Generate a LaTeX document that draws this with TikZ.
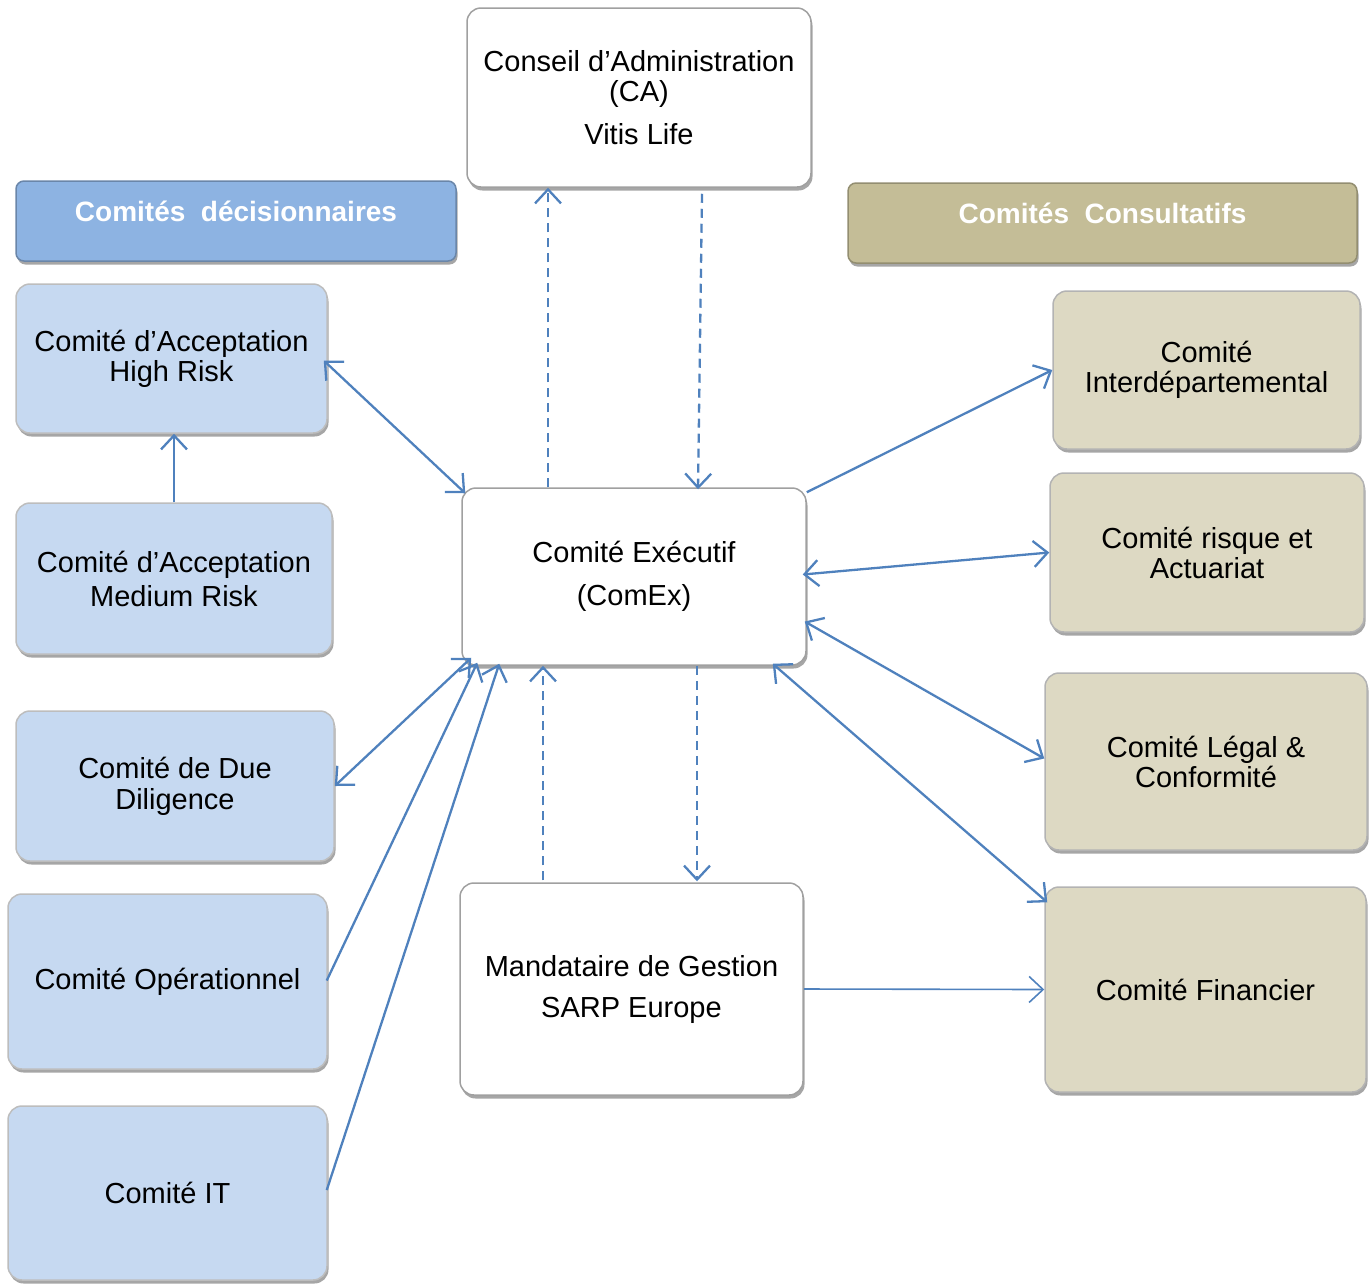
\documentclass[tikz,border=0pt]{standalone}
\usepackage{fontspec}
\setmainfont{Liberation Sans}
\usetikzlibrary{arrows.meta,shadows,calc}
\definecolor{hdrblue}{RGB}{141,179,226}
\definecolor{boxblue}{RGB}{198,217,241}
\definecolor{hdrkhaki}{RGB}{196,189,151}
\definecolor{boxkhaki}{RGB}{221,217,195}
\definecolor{arrowblue}{RGB}{79,129,189}
\definecolor{edgegray}{RGB}{160,160,160}
\begin{document}
\begin{tikzpicture}[x=1pt,y=-1pt,
  shade/.style={drop shadow={shadow xshift=1.5pt,shadow yshift=-3.5pt,fill=black,opacity=0.35}},
  base/.style={shade, rounded corners=14pt, line width=1.5pt, align=center, inner sep=0pt,
    font=\fontsize{29}{30}\selectfont},
  whitebox/.style={base, draw=edgegray, fill=white},
  bluebox/.style={base, draw=edgegray!70, fill=boxblue},
  khakibox/.style={base, draw=edgegray!80, fill=boxkhaki},
  header/.style={shade, rounded corners=8pt, line width=1.5pt, text=white, inner sep=0pt,
    font=\fontsize{28}{30}\selectfont\bfseries, text height=20pt, text depth=20pt},
  conn/.style={draw=arrowblue, line width=2.3pt},
  dconn/.style={conn, dash pattern=on 9pt off 6pt},
  >={Straight Barb[length=14pt,width=26pt]}
]
\useasboundingbox (0,0) rectangle (1370,1283);

% top and centre
\node[whitebox, minimum width=344pt, minimum height=179pt] (ca) at (639,97.5)
  {Conseil d'Administration\\(CA)\\[13pt]Vitis Life};
\node[whitebox, minimum width=344pt, minimum height=177pt, font=\fontsize{29}{43}\selectfont] (comex) at (634,576.5)
  {Comité Exécutif\\(ComEx)};
\node[whitebox, minimum width=343pt, minimum height=212pt, font=\fontsize{29}{41}\selectfont] (mand) at (631.5,989)
  {Mandataire de Gestion\\SARP Europe};

% headers
\node[header, fill=hdrblue, draw=hdrblue!75!black, minimum width=440pt, minimum height=80pt] (hl) at (236,221)
  {Comités\ \ décisionnaires};
\node[header, fill=hdrkhaki, draw=hdrkhaki!75!black, minimum width=509pt, minimum height=80pt] (hrgt) at (1102.5,223)
  {Comités\ \ Consultatifs};

% left committees
\node[bluebox, minimum width=311pt, minimum height=149pt] (hr) at (171.5,358.5)
  {Comité d'Acceptation\\High Risk};
\node[bluebox, minimum width=316pt, minimum height=151pt, font=\fontsize{29}{34}\selectfont] (mr) at (174,578.5)
  {Comité d'Acceptation\\Medium Risk};
\node[bluebox, minimum width=318pt, minimum height=150pt, font=\fontsize{29}{31}\selectfont] (dd) at (175,786)
  {Comité de Due\\Diligence};
\node[bluebox, minimum width=319pt, minimum height=175pt] (op) at (167.5,981.5)
  {Comité Opérationnel};
\node[bluebox, minimum width=319pt, minimum height=174pt] (it) at (167.5,1193)
  {Comité IT};

% right committees
\node[khakibox, minimum width=307pt, minimum height=158pt] (id) at (1206.5,370)
  {Comité\\Interdépartemental};
\node[khakibox, minimum width=314pt, minimum height=159pt] (rq) at (1207,552.5)
  {Comité risque et\\Actuariat};
\node[khakibox, minimum width=322pt, minimum height=177pt] (lg) at (1206,761.5)
  {Comité Légal \&\\Conformité};
\node[khakibox, minimum width=321pt, minimum height=205pt] (fi) at (1205.5,989.5)
  {Comité Financier};

% connectors
\draw[dconn,->] ($(ca.south)+(63,6)$) -- ($(comex.north)+(64,2)$);
\draw[dconn,->] ($(comex.north)+(-86,0)$) -- ($(ca.south)+(-91,0)$);
\draw[dconn,->] ($(mand.north)+(-88.5,-2)$) -- ($(comex.south)+(-91,0)$);
\draw[dconn,->] ($(comex.south)+(63,0)$) -- ($(mand.north)+(65.5,-1)$);

\draw[conn,<->] ($(hr.east)+(-4,2)$) -- ($(comex.north west)+(4,6)$);
\draw[conn,->] (mr.north) -- (mr.north |- hr.south);
\draw[conn,<->] (dd.east) -- ($(comex.south west)+(10,-8)$);
\draw[conn,->] ($(op.east)+(-1,-1)$) -- ($(comex.south west)+(16,-3)$);
\draw[conn,->] ($(it.east)+(-1,-3)$) -- ($(comex.south west)+(38,-2)$);

\draw[conn,->] ($(comex.north east)+(0,5)$) -- (id.west);
\draw[conn,<->] ($(comex.east)+(-4,-2)$) -- (rq.west);
\draw[conn,<->] ($(comex.east)+(-2,45)$) -- ($(lg.west)+(0,-3)$);
\draw[conn,<->] ($(comex.south east)+(-34,-2)$) -- ($(fi.north west)+(3,16)$);
\draw[conn,->,line width=1.6pt] (mand.east) -- (fi.west);
\end{tikzpicture}
\end{document}
